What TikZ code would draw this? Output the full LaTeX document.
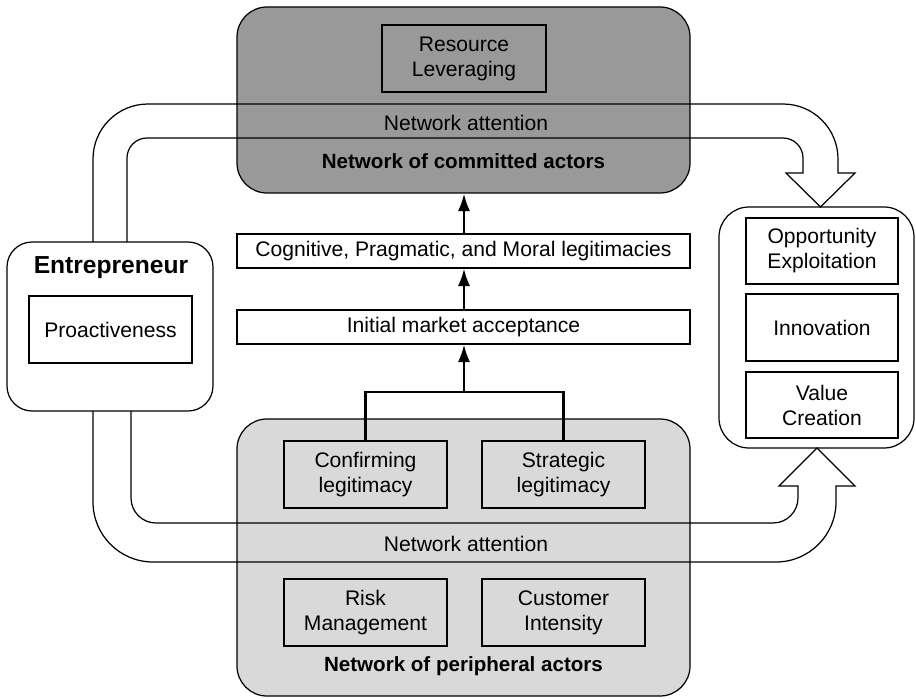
\documentclass[tikz,border=0pt]{standalone}
\usepackage{fontspec}
\setmainfont{Liberation Sans}
\usetikzlibrary{arrows.meta}
\definecolor{committedgray}{HTML}{999999}
\definecolor{peripheralgray}{HTML}{D9D9D9}
\tikzset{
	group/.style={draw, line width=0.7pt, rounded corners=0.6cm},
	item/.style={draw, line width=0.7pt, align=center, inner sep=0pt, minimum width=3.26cm, minimum height=1.34cm, font=\fontsize{12}{14.2}\selectfont},
	stage/.style={draw, line width=0.7pt, inner sep=0pt, minimum width=9.06cm, minimum height=0.68cm, font=\fontsize{12}{14.2}\selectfont},
	label/.style={inner sep=0pt, font=\fontsize{12}{14.2}\selectfont},
	title/.style={inner sep=0pt, font=\fontsize{11.7}{14}\selectfont\bfseries},
	flow/.style={line width=1.3pt, -{Latex[length=10pt,width=7pt]}},
	band/.style={line width=0.7pt, line join=miter}
}

\begin{document}
\begin{tikzpicture}
			%%%%% START %%%%%
			\useasboundingbox (0, 0) rectangle (18.32, 13.96);
			
			% committed actors
			\node[group, fill=committedgray, minimum width=9.06cm, minimum height=3.72cm] (committed) at (9.27, 11.96) {};
			\node[item, minimum width=3.28cm] (leverage) at (9.28, 12.79) {Resource\\Leveraging};
			\node[label] (topattn) at (9.32, 11.50) {Network attention};
			\node[title] (committedlbl) at (9.27, 10.74) {Network of committed actors};
			
			% peripheral actors
			\node[group, fill=peripheralgray, minimum width=9.06cm, minimum height=5.54cm] (peripheral) at (9.27, 2.81) {};
			\node[item] (confirm) at (7.31, 4.47) {Confirming\\legitimacy};
			\node[item] (strategic) at (11.27, 4.47) {Strategic\\legitimacy};
			\node[label] (botattn) at (9.32, 3.08) {Network attention};
			\node[item] (risk) at (7.31, 1.71) {Risk\\Management};
			\node[item] (customer) at (11.27, 1.71) {Customer\\Intensity};
			\node[title] (peripherallbl) at (9.27, 0.64) {Network of peripheral actors};
			
			% legitimacy stages
			\node[stage] (legit) at (9.27, 8.94) {Cognitive, Pragmatic, and Moral legitimacies};
			\node[stage] (market) at (9.27, 7.42) {Initial market acceptance};
			
			% entrepreneur
			\node[draw, line width=0.7pt, rounded corners=0.5cm, minimum width=4.12cm, minimum height=3.38cm] (entre) at (2.20, 7.43) {};
			\node[inner sep=0pt, font=\fontsize{14}{16}\selectfont\bfseries] (entrelbl) at (2.22, 8.60) {Entrepreneur};
			\node[item] (proactive) at (2.21, 7.37) {Proactiveness};
			
			% outcomes
			\node[group, minimum width=3.90cm, minimum height=4.82cm] (outcome) at (16.33, 7.41) {};
			\node[item, minimum width=3.04cm, minimum height=1.32cm] (exploit) at (16.44, 8.94) {Opportunity\\Exploitation};
			\node[item, minimum width=3.04cm] (innov) at (16.44, 7.41) {Innovation};
			\node[item, minimum width=3.04cm, minimum height=1.32cm] (value) at (16.44, 5.86) {Value\\Creation};
			
			% upward flow
			\coordinate (branch) at (9.28, 6.12);
			\draw[line width=1.3pt] (confirm.north) |- (branch) -| (strategic.north);
			\draw[flow] (branch) -- (market.south -| branch);
			\draw[flow] (market.north -| branch) -- (legit.south -| branch);
			\draw[flow] (legit.north -| branch) -- (committed.south -| branch);
			
			% network attention, top
			\draw[band] (1.86, 9.12) [rounded corners=1.1cm] -- (1.86, 11.88) -- (16.76, 11.88)
				[sharp corners] -- (16.76, 10.50) -- (17.10, 10.50) -- (16.41, 9.82) -- (15.72, 10.50) -- (16.06, 10.50)
				[rounded corners=0.4cm] -- (16.06, 11.20) -- (2.54, 11.20)
				[sharp corners] -- (2.54, 9.12);
			
			% network attention, bottom
			\draw[band] (2.62, 5.74) [rounded corners=0.5cm] -- (2.62, 3.50) -- (15.96, 3.50)
				[sharp corners] -- (15.96, 4.24) -- (15.58, 4.24) -- (16.34, 5.00) -- (17.10, 4.24) -- (16.72, 4.24)
				[rounded corners=1.2cm] -- (16.72, 2.72) -- (1.86, 2.72)
				[sharp corners] -- (1.86, 5.74);
			
			%%%%% END %%%%%
\end{tikzpicture}
\end{document}
